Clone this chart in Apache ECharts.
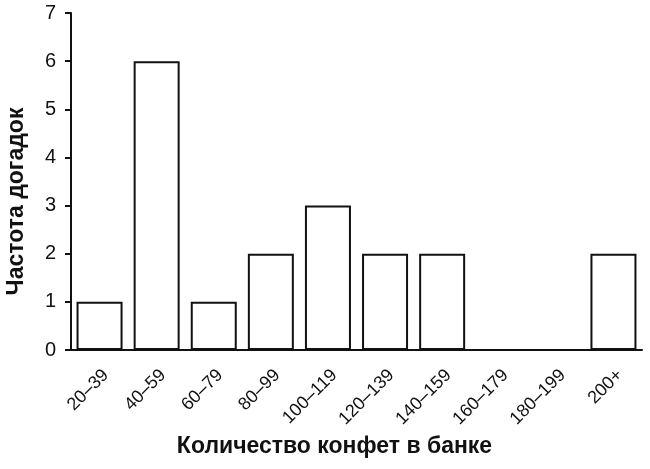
<!DOCTYPE html>
<html>
<head>
<meta charset="utf-8">
<script src="https://cdn.jsdelivr.net/npm/echarts@6/dist/echarts.min.js"></script>
<style>html,body{margin:0;padding:0;background:#fff}#c{width:650px;height:469px}</style>
</head>
<body>
<div id="c"></div>
<script>
const categories = ['20–39','40–59','60–79','80–99','100–119','120–139','140–159','160–179','180–199','200+'];
const counts = [1,6,1,2,3,2,2,0,0,2];
const yTicks = [0,1,2,3,4,5,6,7];
const xTitle = 'Количество конфет в банке';
const yTitle = 'Частота догадок';

const font = '"Liberation Sans", Arial, Helvetica, sans-serif';
const chart = echarts.init(document.getElementById('c'), null, {renderer:'canvas'});
chart.setOption({
  animation:false,
  backgroundColor:'#fff',
  grid:{left:71,right:8,top:13,bottom:119,containLabel:false,outerBoundsMode:'none'},
  xAxis:{
    type:'category',
    data:categories,
    boundaryGap:true,
    name:xTitle,
    nameLocation:'middle',
    nameGap:85,
    nameTextStyle:{fontFamily:font,fontSize:23,fontWeight:'bold',color:'#111',padding:[0,44,0,0]},
    axisLine:{lineStyle:{color:'#111',width:2}},
    axisTick:{alignWithLabel:true,length:6,lineStyle:{color:'#111',width:2}},
    axisLabel:{rotate:45,fontFamily:font,fontSize:18,color:'#111',margin:16,interval:0,verticalAlign:'top'}
  },
  yAxis:{
    type:'value',
    min:yTicks[0],max:yTicks[yTicks.length-1],interval:1,
    name:yTitle,
    nameLocation:'middle',
    nameGap:43,
    nameTextStyle:{fontFamily:font,fontSize:23,fontWeight:'bold',color:'#111',padding:[0,40,0,0]},
    axisLine:{show:true,lineStyle:{color:'#111',width:2}},
    axisTick:{show:true,length:6,lineStyle:{color:'#111',width:2}},
    axisLabel:{fontFamily:font,fontSize:20,color:'#111',margin:15},
    splitLine:{show:false}
  },
  series:[{
    type:'bar',
    data:counts,
    barWidth:46,
    itemStyle:{color:'#fff',borderColor:'#111',borderWidth:2}
  }]
});
</script>
</body>
</html>
